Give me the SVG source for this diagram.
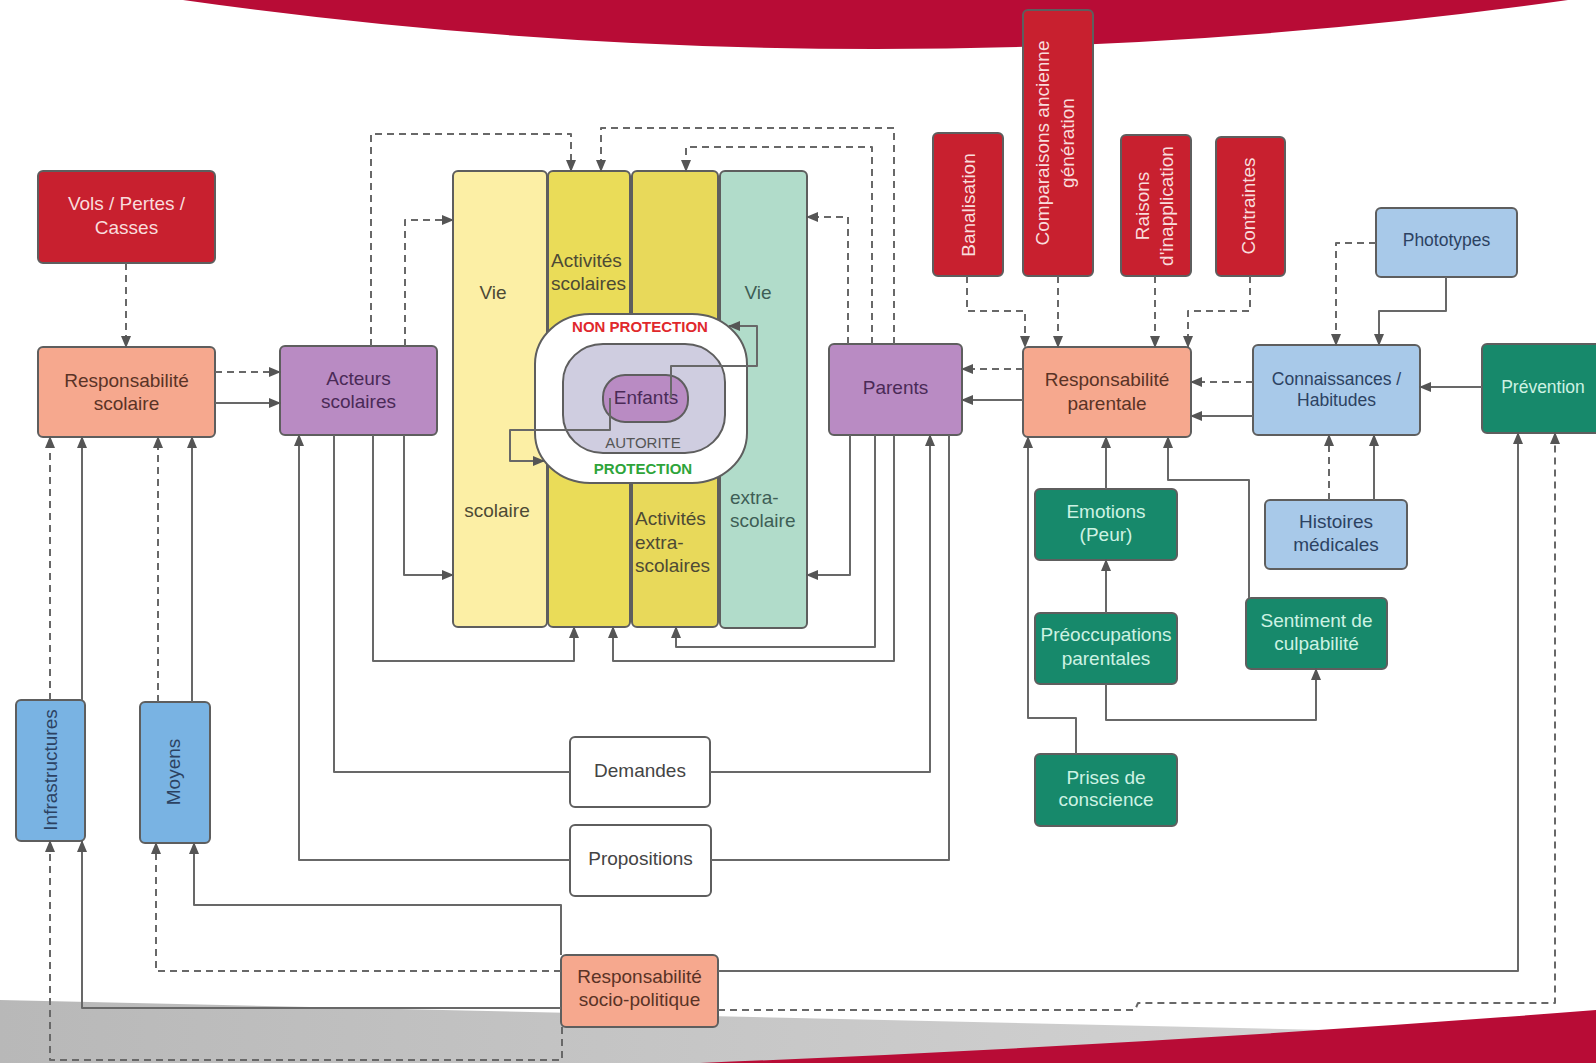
<svg xmlns="http://www.w3.org/2000/svg" width="1596" height="1063" viewBox="0 0 1596 1063">
<style>
.n{stroke:#5e5e5e;stroke-width:2}
.red{fill:#c8202f}.sal{fill:#f6a88e}.pur{fill:#b98bc3}.lb{fill:#a8c9e9}.bb{fill:#79b3e3}.gr{fill:#17896b}.wh{fill:#fff}
.t{font-family:"Liberation Sans",Arial,sans-serif;font-size:19px;text-anchor:middle}
.s{font-size:17.5px}
.l{text-anchor:start}
.tr{fill:#f9dcdc}.ts{fill:#5a3326}.tp{fill:#4a2a57}.tb{fill:#2c4262}.tg{fill:#cdf2e3}.tw{fill:#444}.ty{fill:#4d4a35}.tm{fill:#3e5e55}
.c{fill:none;stroke:#686868;stroke-width:2;stroke-linejoin:round}
.d{stroke-dasharray:7 5}
.a{marker-end:url(#ar)}
</style>
<defs>
<marker id="ar" markerWidth="12" markerHeight="10" refX="11" refY="5" orient="auto" markerUnits="userSpaceOnUse"><path d="M0,0 L12,5 L0,10 z" fill="#555"/></marker>
<linearGradient id="gg" x1="0" y1="0" x2="1" y2="0"><stop offset="0" stop-color="#b8b8b8"/><stop offset="1" stop-color="#d8d8d8"/></linearGradient>
</defs>
<rect width="1596" height="1063" fill="#fff"/>
<g id="decor">
<path d="M183,0 Q875,98 1568,0 Z" fill="#b80c36"/>
<path d="M0,1000 L1596,1036 V1063 H0 Z" fill="url(#gg)"/>
<path d="M700,1063 Q1150,1045 1596,1010 V1063 Z" fill="#b80c36"/>
</g>
<g id="bars">
<g id="vie-scolaire"><rect class="n" x="453" y="171" width="94" height="456" rx="5" fill="#fcefa5"/>
<text class="t ty" x="493" y="298.5">Vie</text><text class="t ty" x="497" y="516.5">scolaire</text></g>
<g id="activites-scolaires"><rect class="n" x="548" y="171" width="82" height="456" rx="5" fill="#eadc58"/>
<text class="t l ty" x="551" y="266.5">Activités</text><text class="t l ty" x="551" y="289.5">scolaires</text></g>
<g id="activites-extra"><rect class="n" x="632" y="171" width="86" height="456" rx="5" fill="#e8d95a"/>
<text class="t l ty" x="635" y="524.5">Activités</text><text class="t l ty" x="635" y="548.5">extra-</text><text class="t l ty" x="635" y="571.5">scolaires</text></g>
<g id="vie-extra"><rect class="n" x="720" y="171" width="87" height="457" rx="5" fill="#b1dcca"/>
<text class="t tm" x="758" y="298.5">Vie</text><text class="t l tm" x="730" y="503.5">extra-</text><text class="t l tm" x="730" y="526.5">scolaire</text></g>
</g>
<g id="non-protection"><rect class="n" x="535" y="314" width="212" height="169" rx="55" ry="50" fill="#fff"/>
<text class="t" x="640" y="332" style="font-size:15px;font-weight:bold;fill:#e0282c">NON PROTECTION</text>
<text class="t" x="643" y="474" style="font-size:15px;font-weight:bold;fill:#2ea43a">PROTECTION</text></g>
<g id="autorite"><rect class="n" x="563" y="344" width="162" height="109" rx="40" ry="38" fill="#cfcde0"/>
<text class="t" x="643" y="448" style="font-size:15px;fill:#555">AUTORITE</text></g>
<g id="enfants"><rect class="n pur" x="603" y="375" width="85" height="47" rx="22"/>
<text class="t tp" x="646" y="403.5">Enfants</text></g>

<g id="vols"><rect class="n red" x="38" y="171" width="177" height="92" rx="5"/>
<text class="t tr" x="126.5" y="209.5">Vols / Pertes /</text><text class="t tr" x="126.5" y="233.5">Casses</text></g>
<g id="resp-scolaire"><rect class="n sal" x="38" y="347" width="177" height="90" rx="5"/>
<text class="t ts" x="126.5" y="386.5">Responsabilité</text><text class="t ts" x="126.5" y="409.5">scolaire</text></g>
<g id="acteurs"><rect class="n pur" x="280" y="346" width="157" height="89" rx="5"/>
<text class="t tp" x="358.5" y="384.5">Acteurs</text><text class="t tp" x="358.5" y="407.5">scolaires</text></g>
<g id="parents"><rect class="n pur" x="829" y="344" width="133" height="91" rx="5"/>
<text class="t tp" x="895.5" y="393.5">Parents</text></g>
<g id="infrastructures"><rect class="n bb" x="16" y="700" width="69" height="141" rx="5"/>
<text class="t tb" transform="translate(50,770) rotate(-90)" y="6.5">Infrastructures</text></g>
<g id="moyens"><rect class="n bb" x="140" y="702" width="70" height="141" rx="5"/>
<text class="t tb" transform="translate(173,772) rotate(-90)" y="6.5">Moyens</text></g>
<g id="demandes"><rect class="n wh" x="570" y="737" width="140" height="70" rx="5"/>
<text class="t tw" x="640" y="776.5">Demandes</text></g>
<g id="propositions"><rect class="n wh" x="570" y="825" width="141" height="71" rx="5"/>
<text class="t tw" x="640.5" y="864.5">Propositions</text></g>
<g id="resp-socio"><rect class="n sal" x="561" y="955" width="157" height="72" rx="5"/>
<text class="t ts" x="639.5" y="982.5">Responsabilité</text><text class="t ts" x="639.5" y="1005.5">socio-politique</text></g>

<g id="banalisation"><rect class="n red" x="933" y="133" width="70" height="143" rx="5"/>
<text class="t tr" transform="translate(968,205) rotate(-90)" y="6.5">Banalisation</text></g>
<g id="comparaisons"><rect class="n red" x="1023" y="10" width="70" height="266" rx="5"/>
<text class="t tr" transform="translate(1055,143) rotate(-90)" y="-6">Comparaisons ancienne</text>
<text class="t tr" transform="translate(1055,143) rotate(-90)" y="19">génération</text></g>
<g id="raisons"><rect class="n red" x="1121" y="135" width="70" height="141" rx="5"/>
<text class="t tr" transform="translate(1154,206) rotate(-90)" y="-5.5">Raisons</text>
<text class="t tr" transform="translate(1154,206) rotate(-90)" y="18.5">d'inapplication</text></g>
<g id="contraintes"><rect class="n red" x="1216" y="137" width="69" height="139" rx="5"/>
<text class="t tr" transform="translate(1248,206) rotate(-90)" y="6.5">Contraintes</text></g>

<g id="resp-parentale"><rect class="n sal" x="1023" y="347" width="168" height="90" rx="5"/>
<text class="t ts" x="1107" y="385.5">Responsabilité</text><text class="t ts" x="1107" y="409.5">parentale</text></g>
<g id="connaissances"><rect class="n lb" x="1253" y="345" width="167" height="90" rx="5"/>
<text class="t s tb" x="1336.5" y="385">Connaissances /</text><text class="t s tb" x="1336.5" y="406">Habitudes</text></g>
<g id="phototypes"><rect class="n lb" x="1376" y="208" width="141" height="69" rx="5"/>
<text class="t s tb" x="1446.5" y="246">Phototypes</text></g>
<g id="prevention"><rect class="n gr" x="1482" y="344" width="124" height="89" rx="5"/>
<text class="t s tg" x="1543" y="393">Prévention</text></g>
<g id="histoires"><rect class="n lb" x="1265" y="500" width="142" height="69" rx="5"/>
<text class="t tb" x="1336" y="527.5">Histoires</text><text class="t tb" x="1336" y="550.5">médicales</text></g>
<g id="emotions"><rect class="n gr" x="1035" y="489" width="142" height="71" rx="5"/>
<text class="t tg" x="1106" y="517.5">Emotions</text><text class="t tg" x="1106" y="540.5">(Peur)</text></g>
<g id="preoccupations"><rect class="n gr" x="1035" y="613" width="142" height="71" rx="5"/>
<text class="t tg" x="1106" y="640.5">Préoccupations</text><text class="t tg" x="1106" y="664.5">parentales</text></g>
<g id="sentiment"><rect class="n gr" x="1246" y="598" width="141" height="71" rx="5"/>
<text class="t tg" x="1316.5" y="626.5">Sentiment de</text><text class="t tg" x="1316.5" y="649.5">culpabilité</text></g>
<g id="prises"><rect class="n gr" x="1035" y="754" width="142" height="72" rx="5"/>
<text class="t tg" x="1106" y="783.5">Prises de</text><text class="t tg" x="1106" y="805.5">conscience</text></g>

<g id="connectors">
<path class="c d a" d="M126,263 V347"/>
<path class="c d a" d="M215,372 H280"/>
<path class="c a" d="M215,403 H280"/>
<path class="c d a" d="M50,700 V437"/>
<path class="c a" d="M82,700 V437"/>
<path class="c d a" d="M158,702 V437"/>
<path class="c a" d="M192,702 V437"/>
<path class="c d a" d="M562,1027 V1060 H50 V841"/>
<path class="c a" d="M561,1008 H82 V841"/>
<path class="c d a" d="M561,971 H156 V843"/>
<path class="c a" d="M561,955 V905 H194 V843"/>
<path class="c a" d="M718,971 H1518 V433"/>
<path class="c d a" d="M718,1010 H1135 L1138,1003 H1555 V433"/>
<path class="c d a" d="M405,346 V220 H453"/>
<path class="c d a" d="M371,346 V134 H571 V171"/>
<path class="c d a" d="M894,344 V128 H601 V171"/>
<path class="c d a" d="M872,344 V147 H686 V171"/>
<path class="c d a" d="M848,344 V217 H807"/>
<path class="c a" d="M570,860 H299 V435"/>
<path class="c" d="M334,435 V772 H570"/>
<path class="c a" d="M710,772 H930 V435"/>
<path class="c" d="M949,435 V860 H711"/>
<path class="c a" d="M373,435 V661 H574 V627"/>
<path class="c a" d="M404,435 V575 H453"/>
<path class="c a" d="M850,435 V575 H807"/>
<path class="c a" d="M875,435 V647 H676 V627"/>
<path class="c a" d="M894,435 V661 H613 V627"/>
<path class="c a" d="M671,398 V366 H757 V326 H729"/>
<path class="c a" d="M610,398 V430 H510 V461 H544"/>
<path class="c d a" d="M1023,369 H962"/>
<path class="c a" d="M1023,400 H962"/>
<path class="c d a" d="M1253,382 H1191"/>
<path class="c a" d="M1253,416 H1191"/>
<path class="c d a" d="M967,276 V311 H1025 V347"/>
<path class="c d a" d="M1058,276 V347"/>
<path class="c d a" d="M1155,276 V347"/>
<path class="c d a" d="M1250,276 V311 H1188 V347"/>
<path class="c d a" d="M1376,243 H1336 V345"/>
<path class="c a" d="M1446,277 V311 H1379 V345"/>
<path class="c d a" d="M1329,500 V435"/>
<path class="c a" d="M1374,500 V435"/>
<path class="c a" d="M1482,387 H1420"/>
<path class="c a" d="M1106,489 V437"/>
<path class="c a" d="M1249,598 V480 H1168 V437"/>
<path class="c a" d="M1076,754 V718 H1028 V437"/>
<path class="c a" d="M1106,613 V560"/>
<path class="c a" d="M1106,684 V720 H1316 V669"/>
</g>
</svg>
